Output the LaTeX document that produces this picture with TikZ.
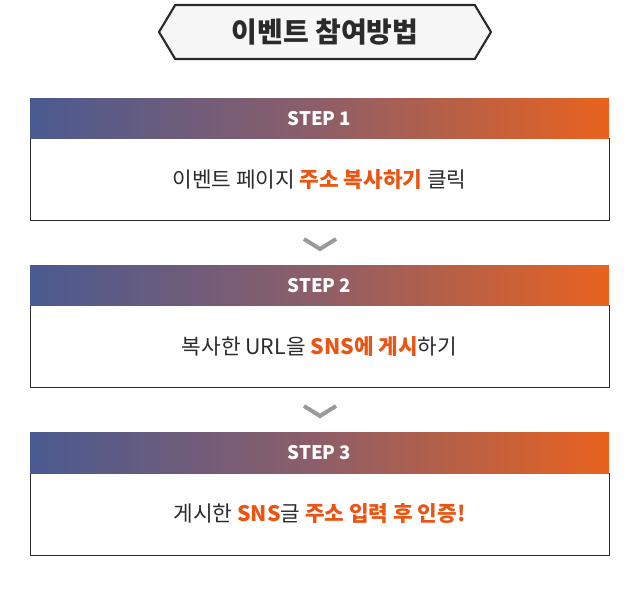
\documentclass[tikz,border=0pt]{standalone}
\usepackage{fontspec}
\setmainfont{Noto Sans CJK KR}
\usetikzlibrary{shapes.symbols}
\definecolor{stepblue}{HTML}{4A5A90}
\definecolor{stepmid}{HTML}{8E5E68}
\definecolor{steporange}{HTML}{E9621E}
\definecolor{hiorange}{HTML}{EA5514}
\definecolor{textdark}{HTML}{2B2B2B}
\definecolor{chevgray}{HTML}{9A9A9A}
\newcommand{\hi}[1]{\textcolor{hiorange}{\textbf{#1}}}

\begin{document}
\begin{tikzpicture}[x=0.75pt,y=-0.75pt]
\tikzstyle{titlebox}=[signal,signal to=west and east,signal pointer angle=118,draw=textdark,line width=1.6pt,fill=black!3,minimum width=249pt,minimum height=40.5pt,inner sep=0pt,font=\fontsize{21}{24}\selectfont\bfseries,text=textdark]
\tikzstyle{head}=[rectangle,minimum width=434.25pt,minimum height=30pt,inner sep=0pt,left color=stepblue,right color=steporange,middle color=stepmid,text=white,font=\fontsize{14}{16}\selectfont\bfseries]
\tikzstyle{body}=[rectangle,draw=textdark,line width=0.75pt,fill=white,minimum width=434.25pt,minimum height=61.5pt,inner sep=0pt,text=textdark,font=\fontsize{16}{19}\selectfont]
\tikzstyle{chev}=[draw=chevgray,line width=3pt]
\useasboundingbox (0,0) rectangle (640,606);
\node [titlebox] (title) at (325,32) {이벤트 참여방법};
\node [body] (body1) at (319.5,180) {이벤트 페이지 \hi{주소 복사하기} 클릭};
\node [head] (head1) at (319.5,119) {STEP 1};
\node [body] (body2) at (319.5,347) {복사한 URL을 \hi{SNS에 게시}하기};
\node [head] (head2) at (319.5,286) {STEP 2};
\node [body] (body3) at (319.5,514) {게시한 \hi{SNS}글 \hi{주소 입력 후 인증!}};
\node [head] (head3) at (319.5,453) {STEP 3};
% arrows between steps
\draw [chev] (304,239) -- (320,249) -- (336,239);
\draw [chev] (304,406) -- (320,416) -- (336,406);
\end{tikzpicture}
\end{document}
